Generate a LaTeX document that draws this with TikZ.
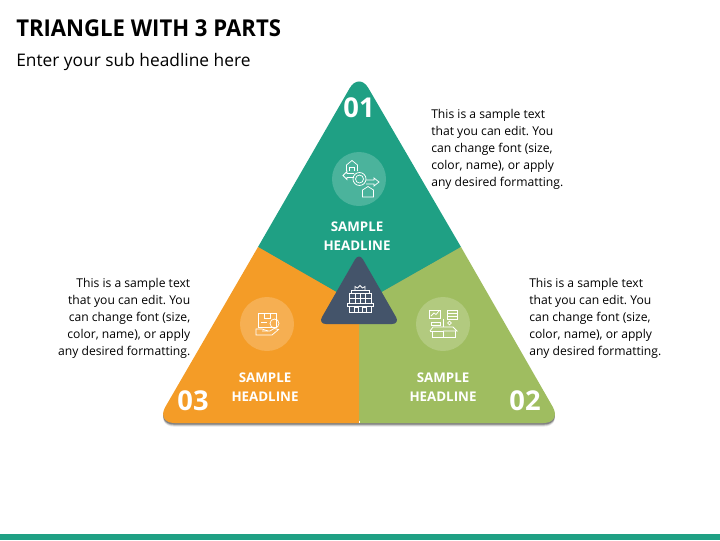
\documentclass[tikz,border=0pt]{standalone}
\usepackage{fontspec}
\setmainfont{Open Sans}
\newfontfamily\titlefont[FakeStretch=.953]{Open Sans}
\definecolor{partgreen}{HTML}{1FA084}
\definecolor{partorange}{HTML}{F49C27}
\definecolor{partlime}{HTML}{9FBD60}
\definecolor{partslate}{HTML}{44546A}
\tikzset{
    blurb/.style={font=\fontsize{9.1}{12.75}\selectfont\frenchspacing, inner sep=0pt, text=black},
    headline/.style={font=\fontsize{10}{14.2}\selectfont\bfseries, text=white, align=center, inner sep=0pt},
    number/.style={font=\fontsize{20.5}{20}\selectfont\bfseries, text=white, inner sep=0pt},
    iconline/.style={draw=white, line width=.55pt, fill=none},
    halo/.style={fill=white, fill opacity=.2}
}
\begin{document}
\begin{tikzpicture}[x=.75pt, y=-.75pt]
            \useasboundingbox (0, 0) rectangle (720, 540);
            \coordinate (top) at (359, 72);
            \coordinate (left) at (156, 423);
            \coordinate (right) at (562, 423);
            \coordinate (mid) at (359, 305);
            \coordinate (lsplit) at (258, 247);
            \coordinate (rsplit) at (461, 247);
            \coordinate (bsplit) at (359, 423);
            \foreach \d/\o in {3.6/.1, 2.6/.18, 1.6/.3}{
                \fill[black, opacity=\o, rounded corners=14]([shift={(0, \d)}]top)--([shift={(0, \d)}]right)--([shift={(0, \d)}]left)--cycle;
            }
            \fill[partgreen](lsplit)[rounded corners=14]--(top)[sharp corners]--(rsplit)--(mid)--cycle;
            \fill[partlime](rsplit)[rounded corners=14]--(right)[sharp corners]--(bsplit)--(mid)--cycle;
            \fill[partorange](bsplit)[rounded corners=14]--(left)[sharp corners]--(lsplit)--(mid)--cycle;
            \draw[white, line width=.5pt](359, 420.5)--(bsplit);
            \fill[partslate, rounded corners=6](359, 252.5)--(400, 324)--(318, 324)--cycle;
            \fill[halo](359, 179)circle(27);
            \fill[halo](267, 324)circle(27);
            \fill[halo](443, 324)circle(27);
            \node[number](num1) at (359, 108){01};
            \node[number](num2) at (525, 401){02};
            \node[number](num3) at (193, 401){03};
            \node[headline](head1) at (357, 236){SAMPLE\\HEADLINE};
            \node[headline](head2) at (443, 387){SAMPLE\\HEADLINE};
            \node[headline](head3) at (265, 387){SAMPLE\\HEADLINE};
            \node[blurb, anchor=north west, align=left](text1) at (431, 109.5){This is a sample text\\that you can edit. You\\can change font (size,\\color, name), or apply\\any desired formatting.};
            \node[blurb, anchor=north west, align=left](text2) at (529, 278.5){This is a sample text\\that you can edit. You\\can change font (size,\\color, name), or apply\\any desired formatting.};
            \node[blurb, anchor=north east, align=right](text3) at (190.5, 278.5){This is a sample text\\that you can edit. You\\can change font (size,\\color, name), or apply\\any desired formatting.};
            \node[anchor=base west, inner sep=0pt, font=\titlefont\fontsize{17.4}{20}\selectfont\bfseries](title) at (16, 36){TRIANGLE WITH 3 PARTS};
            \node[anchor=base west, inner sep=0pt, font=\fontsize{13}{15}\selectfont](subtitle) at (16, 66){Enter your sub headline here};
            \fill[partgreen](0, 534)rectangle(720, 540);
            \begin{scope}[iconline]
                \draw(346.5, 171)--(346.5, 165)--(352, 160.5)--(357.5, 165)--(357.5, 171);
                \draw(349.5, 171)--(349.5, 167)--(354.5, 167)--(354.5, 171);
                \draw(354, 177.5)--(347, 177.5)--(347, 179.5)--(343, 175.5)--(347, 171.5)--(347, 173.5)--(354, 173.5);
                \draw(359.5, 179)circle(6.5);
                \draw(359.5, 179)circle(4);
                \draw(366, 180)--(374, 180)--(374, 178)--(379, 182)--(374, 186)--(374, 184)--(366, 184);
                \draw(362.5, 197)--(362.5, 190)--(368, 186.5)--(373.5, 190)--(373.5, 197)--cycle;
                \draw(258, 313.5)rectangle(276.5, 327);
                \draw(264, 313.5)--(264, 318)--(270, 318)--(270, 313.5);
                \draw(261, 322)--(267, 322);
                \draw(274.5, 323.5)circle(4.5);
                \draw(256, 328.5)--(256, 335)--(272, 335)--(278.5, 329.5)--(274, 328.5)--(270, 331)--(262, 331);
                \draw(256, 329)--(262, 329)--(268, 331);
                \draw(429, 310)rectangle(440, 318);
                \draw(431, 316)--(434, 313)--(436, 314.5)--(439, 311);
                \draw(447, 310)rectangle(457, 313);
                \draw(447, 313)rectangle(457, 316);
                \draw(447, 316)rectangle(457, 319);
                \draw(431, 322)rectangle(440, 325);
                \draw(443, 319)--(443, 327);
                \draw(449.5, 323)circle(1.8);
                \draw(430, 331)--(443, 331)--(443, 337)--(432, 337)--(432, 331);
                \draw(430, 331)--(433, 327)--(443, 327)--(453, 327)--(457, 331)--(443, 331);
                \draw(443, 337)--(455, 337)--(455, 331);
                \draw(349, 293)rectangle(371, 303);
                \draw(351, 290)rectangle(369, 293);
                \draw(355, 290)--(355, 286.5)--(357.5, 288)--(360, 285.5)--(362.5, 288)--(365, 286.5)--(365, 290);
                \draw(355, 293)--(355, 303);
                \draw(360, 293)--(360, 303);
                \draw(365, 293)--(365, 303);
                \draw(349, 298)--(371, 298);
                \draw(347, 303)rectangle(373, 306);
                \draw(349, 306)--(349, 312)--(371, 312)--(371, 306);
                \draw(354, 312)--(354, 307.5)--(358, 307.5)--(358, 312);
                \draw(362, 312)--(362, 307.5)--(366, 307.5)--(366, 312);
            \end{scope}
        \end{tikzpicture}
\end{document}
